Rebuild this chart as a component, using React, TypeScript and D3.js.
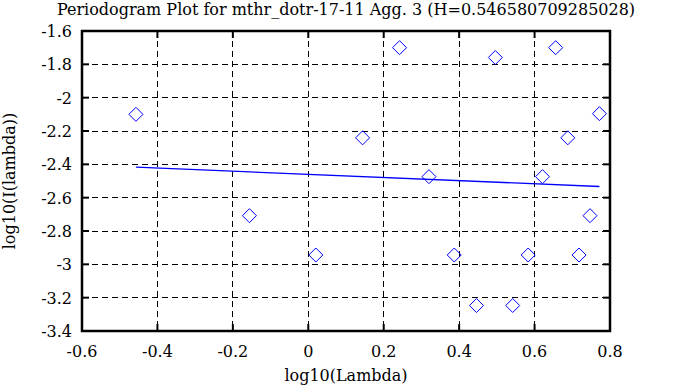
import React from 'react';
import * as d3 from 'd3';

// periodogram points
const logLambda = [-0.457, -0.156, 0.02, 0.144, 0.242, 0.32, 0.387, 0.446, 0.496, 0.542, 0.583, 0.621, 0.656, 0.688, 0.718, 0.747, 0.772];
const logI = [-2.1, -2.708, -2.944, -2.241, -1.7, -2.474, -2.944, -3.247, -1.759, -3.247, -2.944, -2.474, -1.7, -2.241, -2.944, -2.708, -2.096];

// fitted line end points
const fitX = [-0.457, 0.772];
const fitY = [-2.417, -2.533];

const xTicks = [-0.6, -0.4, -0.2, 0, 0.2, 0.4, 0.6, 0.8];
const yTicks = [-1.6, -1.8, -2, -2.2, -2.4, -2.6, -2.8, -3, -3.2, -3.4];

const title = 'Periodogram Plot for mthr_dotr-17-11 Agg. 3 (H=0.546580709285028)';

const W = 678, H = 387;
const margin = { top: 31, right: 68, bottom: 56, left: 82 };
const font = 'DejaVu Serif, serif';

export default function App() {
  const x = d3.scaleLinear().domain([-0.6, 0.8]).range([margin.left, W - margin.right]);
  const y = d3.scaleLinear().domain([-3.4, -1.6]).range([H - margin.bottom, margin.top]);
  const [x0, x1] = x.range();
  const [y0, y1] = y.range(); // y0 bottom, y1 top
  const tk = 7;

  const fit = d3.line<number>()
    .x(d => x(fitX[d]))
    .y(d => y(fitY[d]));

  const fmt = (v: number) => String(+v.toFixed(1));

  return (
    <div style={{ position: 'fixed', left: 0, top: 0 }}>
      <svg width={W} height={H} style={{ display: 'block', background: '#fff', fontFamily: font }}>
        <rect width={W} height={H} fill="#fff" />
        {/* grid */}
        {xTicks.slice(1, -1).map(t => (
          <line key={'gx' + t} x1={x(t)} x2={x(t)} y1={y1} y2={y0} stroke="#000" strokeDasharray="6,4" shapeRendering="crispEdges" />
        ))}
        {yTicks.slice(1, -1).map(t => (
          <line key={'gy' + t} x1={x0} x2={x1} y1={y(t)} y2={y(t)} stroke="#000" strokeDasharray="6,4" shapeRendering="crispEdges" />
        ))}
        {/* inward ticks on all sides */}
        {xTicks.map(t => (
          <g key={'tx' + t}>
            <line x1={x(t)} x2={x(t)} y1={y0} y2={y0 - tk} stroke="#000" strokeWidth={2} />
            <line x1={x(t)} x2={x(t)} y1={y1} y2={y1 + tk} stroke="#000" strokeWidth={2} />
          </g>
        ))}
        {yTicks.map(t => (
          <g key={'ty' + t}>
            <line x1={x0} x2={x0 + tk} y1={y(t)} y2={y(t)} stroke="#000" strokeWidth={2} />
            <line x1={x1} x2={x1 - tk} y1={y(t)} y2={y(t)} stroke="#000" strokeWidth={2} />
          </g>
        ))}
        <rect x={x0} y={y1} width={x1 - x0} height={y0 - y1} fill="none" stroke="#000" strokeWidth={2.5} />
        {/* tick labels */}
        {xTicks.map(t => (
          <text key={'lx' + t} x={x(t)} y={y0 + 26} textAnchor="middle" fontSize={16}>{fmt(t)}</text>
        ))}
        {yTicks.map(t => (
          <text key={'ly' + t} x={x0 - 10} y={y(t) + 6} textAnchor="end" fontSize={16}>{fmt(t)}</text>
        ))}
        {/* fitted line */}
        <path d={fit([0, 1]) || ''} fill="none" stroke="#0000ff" strokeWidth={1.3} />
        {/* points */}
        {logLambda.map((v, i) => {
          const cx = x(v), cy = y(logI[i]);
          return (
            <path key={'p' + i} d={`M${cx},${cy - 7}L${cx + 7},${cy}L${cx},${cy + 7}L${cx - 7},${cy}Z`} fill="none" stroke="#0000ff" strokeWidth={1} />
          );
        })}
        <text x={(x0 + x1) / 2} y={15} textAnchor="middle" fontSize={16}>{title}</text>
        <text x={(x0 + x1) / 2} y={381} textAnchor="middle" fontSize={16}>log10(Lambda)</text>
        <text transform={`translate(15,${(y0 + y1) / 2}) rotate(-90)`} textAnchor="middle" fontSize={16}>log10(I(lambda))</text>
      </svg>
    </div>
  );
}
